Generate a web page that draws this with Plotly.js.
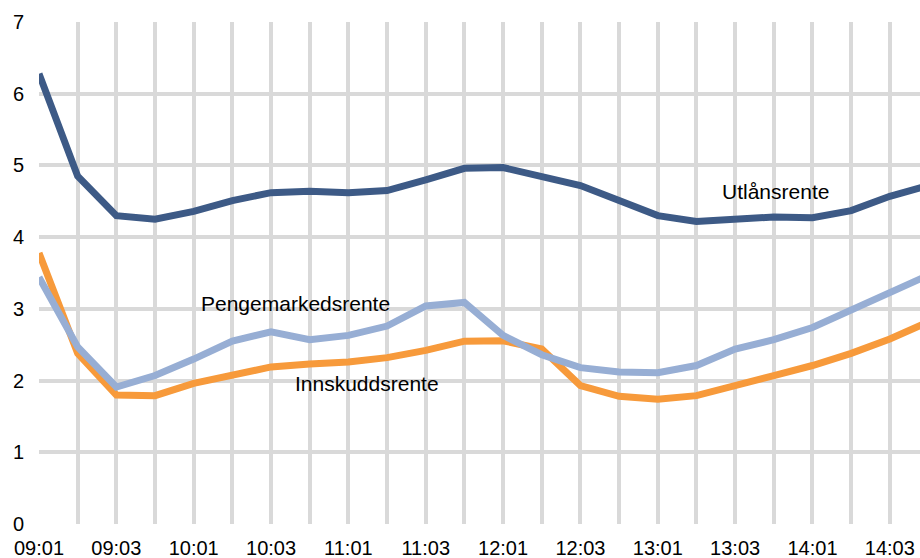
<!DOCTYPE html>
<html>
<head>
<meta charset="utf-8">
<script src="https://cdn.plot.ly/plotly-3.0.1.min.js"></script>
<style>
html,body{margin:0;padding:0;background:#fff;overflow:hidden;}
#chart{width:920px;height:558px;}
</style>
</head>
<body>
<div id="chart"></div>
<script>
var categories = ["09:01","09:02","09:03","09:04","10:01","10:02","10:03","10:04",
  "11:01","11:02","11:03","11:04","12:01","12:02","12:03","12:04",
  "13:01","13:02","13:03","13:04","14:01","14:02","14:03","14:04"];
var tickLabels = ["09:01","","09:03","","10:01","","10:03","",
  "11:01","","11:03","","12:01","","12:03","",
  "13:01","","13:03","","14:01","","14:03",""];
var utlansrente = [6.28,4.85,4.30,4.25,4.36,4.51,4.62,4.64,4.62,4.65,4.80,4.96,
  4.97,4.85,4.72,4.51,4.30,4.22,4.26,4.28,4.27,4.37,4.57,4.72];
var pengemarkedsrente = [3.44,2.47,1.91,2.07,2.30,2.55,2.68,2.57,2.63,2.76,3.04,3.09,
  2.63,2.36,2.18,2.12,2.11,2.21,2.44,2.57,2.74,2.98,3.21,3.47];
var innskuddsrente = [3.78,2.38,1.80,1.79,1.96,2.08,2.19,2.23,2.26,2.32,2.42,2.55,
  2.555,2.44,1.93,1.78,1.74,1.79,1.94,2.07,2.21,2.38,2.58,2.82];
var seriesNames = ["Utlånsrente","Pengemarkedsrente","Innskuddsrente"];

var FONT = "Liberation Sans, Arial, sans-serif";

var traces = [
  {x: categories, y: innskuddsrente, name: seriesNames[2], type: "scatter", mode: "lines",
   line: {color: "#F79A3B", width: 7}},
  {x: categories, y: pengemarkedsrente, name: seriesNames[1], type: "scatter", mode: "lines",
   line: {color: "#97AED4", width: 7}},
  {x: categories, y: utlansrente, name: seriesNames[0], type: "scatter", mode: "lines",
   line: {color: "#3D5A86", width: 7}}
];

var layout = {
  width: 920, height: 558,
  margin: {l: 39, r: 0, t: 21.5, b: 34, pad: 0},
  paper_bgcolor: "#ffffff", plot_bgcolor: "#ffffff",
  showlegend: false,
  font: {family: FONT, size: 20, color: "#000000"},
  xaxis: {
    type: "category",
    range: [0, 22.78],
    tickmode: "array", tickvals: categories, ticktext: tickLabels,
    showgrid: true, gridcolor: "#D9D9D9", gridwidth: 4,
    zeroline: false, showline: false, ticks: "",
    ticklabelstandoff: 10,
    tickfont: {family: FONT, size: 20, color: "#000000"}
  },
  yaxis: {
    range: [0, 7], dtick: 1, tick0: 0,
    showgrid: true, gridcolor: "#D9D9D9", gridwidth: 4,
    zeroline: false, showline: false, ticks: "",
    ticklabelstandoff: 14,
    tickfont: {family: FONT, size: 20, color: "#000000"}
  },
  annotations: [
    {text: seriesNames[0], xref: "paper", yref: "paper", x: 0.8365, y: 0.662,
     xanchor: "center", yanchor: "middle", showarrow: false,
     font: {family: FONT, size: 21, color: "#000000"}},
    {text: seriesNames[1], xref: "paper", yref: "paper", x: 0.2917, y: 0.44,
     xanchor: "center", yanchor: "middle", showarrow: false,
     font: {family: FONT, size: 21, color: "#000000"}},
    {text: seriesNames[2], xref: "paper", yref: "paper", x: 0.372, y: 0.28,
     xanchor: "center", yanchor: "middle", showarrow: false,
     font: {family: FONT, size: 21, color: "#000000"}}
  ]
};

Plotly.newPlot("chart", traces, layout, {displayModeBar: false, staticPlot: true});
</script>
</body>
</html>
